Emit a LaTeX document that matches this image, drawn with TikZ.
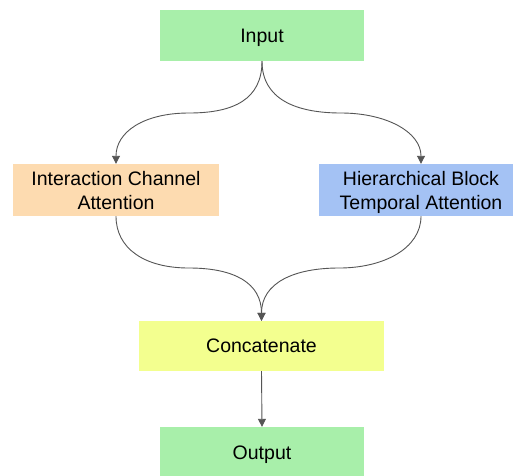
\documentclass[tikz,border=0pt]{standalone}
\usepackage{fontspec}
\setmainfont{Liberation Sans}
\usetikzlibrary{arrows.meta}
\definecolor{cgreen}{RGB}{168,239,170}
\definecolor{corange}{RGB}{253,219,176}
\definecolor{cblue}{RGB}{164,194,244}
\definecolor{cyellow}{RGB}{243,255,143}
\definecolor{cedge}{RGB}{85,85,85}
\begin{document}
\begin{tikzpicture}[x=1pt,y=-1pt,
  box/.style={inner sep=0pt, align=center, text depth=-2pt, font=\fontsize{19.5}{24}\selectfont, text=black},
  twoline/.style={text depth=-5pt},
  edge/.style={draw=cedge, line width=0.9pt, -{Triangle[length=8pt,width=8pt]}}]
\useasboundingbox (0,0) rectangle (513,475);
\fill[white] (0,0) rectangle (513,475);
\node[box, fill=cgreen, minimum width=204pt, minimum height=51pt] (in) at (262,35.5) {Input};
\node[box, twoline, fill=corange, minimum width=206pt, minimum height=52pt] (ica) at (116,190) {Interaction Channel\\Attention};
\node[box, twoline, fill=cblue, minimum width=204pt, minimum height=52pt] (hb) at (421,190) {Hierarchical Block\\Temporal Attention};
\node[box, fill=cyellow, minimum width=245pt, minimum height=50pt] (conc) at (261.5,346) {Concatenate};
\node[box, fill=cgreen, minimum width=204pt, minimum height=51pt] (out) at (262,452.5) {Output};
\coordinate (m1) at (189,113);
\coordinate (m2) at (341,113);
\coordinate (m3) at (189,268);
\coordinate (m4) at (339,268);
\draw[edge] (in.south) .. controls +(0,38) and +(45,0) .. (m1) .. controls +(-45,0) and +(0,-32) .. (ica.north);
\draw[edge] (in.south) .. controls +(0,38) and +(-45,0) .. (m2) .. controls +(45,0) and +(0,-32) .. (hb.north);
\draw[edge] (ica.south) .. controls +(0,32) and +(-45,0) .. (m3) .. controls +(45,0) and +(0,-38) .. (conc.north);
\draw[edge] (hb.south) .. controls +(0,32) and +(45,0) .. (m4) .. controls +(-45,0) and +(0,-38) .. (conc.north);
\draw[edge] (conc.south) -- (out.north);
\end{tikzpicture}
\end{document}
